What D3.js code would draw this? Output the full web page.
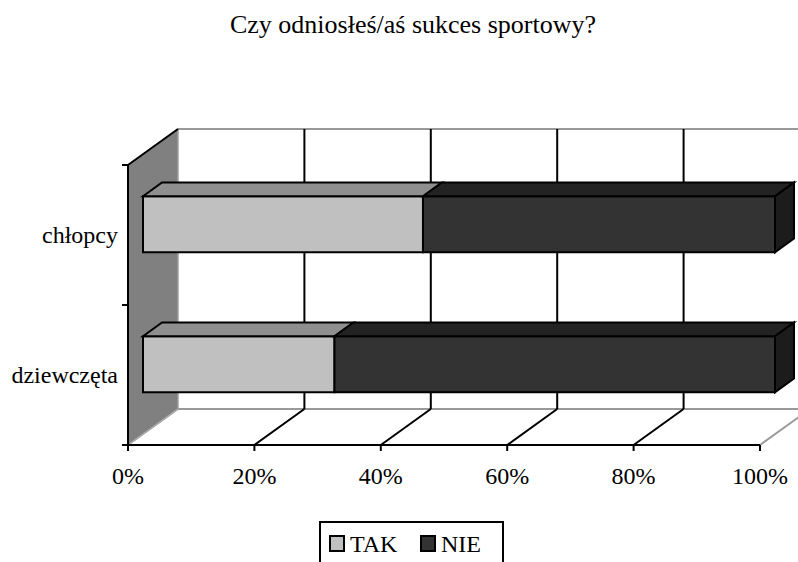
<!DOCTYPE html>
<html lang="pl">
<head>
    <meta charset="UTF-8">
    <title>Czy odniosłeś/aś sukces sportowy?</title>
    <script src="https://d3js.org/d3.v7.min.js"></script>
    <style>
        body { margin: 0; padding: 0; background-color: white; }
        svg { display: block; }
        svg text { font-family: 'Liberation Serif', 'Times New Roman', Times, 'DejaVu Serif', serif; }
    </style>
</head>
<body>
    <div id="chart"></div>
    <script>
        // data
        const categories = ["chłopcy", "dziewczęta"];
        const seriesNames = ["TAK", "NIE"];
        const takValues = [44.3, 30.3];
        const nieValues = [55.7, 69.7];
        const tickValues = [0, 20, 40, 60, 80, 100];

        const width = 798, height = 562;
        const colors = { TAK: "#c0c0c0", NIE: "#333333" };
        const topColors = { TAK: "#8f8f8f", NIE: "#232323" };
        const sideColor = "#1c1c1c";
        const serif = "'Liberation Serif', 'Times New Roman', Times, 'DejaVu Serif', serif";

        // depth projection of the 3D box
        const depthX = 50, depthY = -36;
        const proj = (x, y, z) => [x + z * depthX, y + z * depthY];
        const barZ0 = 0.3, barZ1 = 0.68;

        const x = d3.scaleLinear().domain([0, 100]).range([128, 760]);
        const y = d3.scaleBand().domain(categories).range([165, 445])
            .paddingInner(0.6).paddingOuter(0.3);
        const yTop = 165, yBottom = 445;

        const svg = d3.select("#chart").append("svg")
            .attr("width", width).attr("height", height)
            .attr("font-family", serif);

        const poly = pts => "M" + pts.map(p => p.join(",")).join("L") + "Z";

        // left wall
        svg.append("path")
            .attr("d", poly([proj(x(0), yTop, 0), proj(x(0), yTop, 1), proj(x(0), yBottom, 1), proj(x(0), yBottom, 0)]))
            .attr("fill", "#808080").attr("stroke", "#a0a0a0").attr("stroke-width", 1.5);

        // back wall top edge & floor back edge (grey)
        const backTop = proj(x(0), yTop, 1), backTopR = proj(x(100), yTop, 1);
        svg.append("line").attr("x1", backTop[0]).attr("y1", backTop[1])
            .attr("x2", backTopR[0] + 20).attr("y2", backTopR[1])
            .attr("stroke", "#999").attr("stroke-width", 2);
        const floorBack = proj(x(0), yBottom, 1), floorBackR = proj(x(100), yBottom, 1);
        svg.append("line").attr("x1", floorBack[0]).attr("y1", floorBack[1])
            .attr("x2", floorBackR[0] + 20).attr("y2", floorBackR[1])
            .attr("stroke", "#999").attr("stroke-width", 2);
        const floorRight = proj(x(100), yBottom, 1);
        svg.append("line").attr("x1", x(100)).attr("y1", yBottom)
            .attr("x2", floorRight[0]).attr("y2", floorRight[1])
            .attr("stroke", "#999").attr("stroke-width", 2);
        svg.append("line").attr("x1", x(0)).attr("y1", yBottom)
            .attr("x2", floorBack[0]).attr("y2", floorBack[1])
            .attr("stroke", "#aaa").attr("stroke-width", 1.5);

        // gridlines on back wall and floor
        const inner = tickValues.filter(t => t > 0 && t < 100);
        const grid = svg.append("g").attr("stroke", "#000").attr("stroke-width", 2);
        inner.forEach(t => {
            const a = proj(x(t), yTop, 1), b = proj(x(t), yBottom, 1);
            grid.append("line").attr("x1", a[0]).attr("y1", a[1]).attr("x2", b[0]).attr("y2", b[1]);
            grid.append("line").attr("x1", x(t)).attr("y1", yBottom).attr("x2", b[0]).attr("y2", b[1]);
        });

        // left wall front edges
        const wallTopBack = proj(x(0), yTop, 1);
        svg.append("line").attr("x1", x(0)).attr("y1", yTop).attr("x2", wallTopBack[0]).attr("y2", wallTopBack[1])
            .attr("stroke", "#000").attr("stroke-width", 2);
        svg.append("line").attr("x1", x(0)).attr("y1", yTop).attr("x2", x(0)).attr("y2", yBottom)
            .attr("stroke", "#000").attr("stroke-width", 2);

        // front floor axis with ticks
        svg.append("line").attr("x1", x(0)).attr("y1", yBottom).attr("x2", x(100)).attr("y2", yBottom)
            .attr("stroke", "#000").attr("stroke-width", 2);
        svg.append("g").selectAll("line").data(tickValues).join("line")
            .attr("x1", d => x(d)).attr("x2", d => x(d))
            .attr("y1", yBottom).attr("y2", yBottom + 6)
            .attr("stroke", "#000").attr("stroke-width", 2);
        svg.append("g").selectAll("text").data(tickValues).join("text")
            .attr("x", d => x(d)).attr("y", 484)
            .attr("text-anchor", "middle").attr("font-size", 24)
            .text(d => d + "%");

        // category axis ticks
        const catTicks = [yTop, yTop + y.step(), yBottom];
        svg.append("g").selectAll("line").data(catTicks).join("line")
            .attr("x1", x(0) - 6).attr("x2", x(0))
            .attr("y1", d => d).attr("y2", d => d)
            .attr("stroke", "#000").attr("stroke-width", 2);
        svg.append("g").selectAll("text").data(categories).join("text")
            .attr("x", 118).attr("y", d => y(d) + y.bandwidth() / 2 + 8)
            .attr("text-anchor", "end").attr("font-size", 24)
            .text(d => d);

        // stacked 3D bars
        const rows = categories.map((c, i) => ({ cat: c, TAK: takValues[i], NIE: nieValues[i] }));
        const stack = d3.stack().keys(seriesNames)(rows);
        const bars = svg.append("g").attr("stroke", "#000").attr("stroke-width", 2).attr("stroke-linejoin", "miter");
        categories.forEach((c, i) => {
            const y0 = y(c), y1 = y(c) + y.bandwidth();
            stack.forEach((s, k) => {
                const v0 = s[i][0], v1 = s[i][1];
                const xa = x(v0) + barZ0 * depthX, xb = x(v1) + barZ0 * depthX;
                const dz = barZ1 - barZ0;
                const fy0 = y0 + barZ0 * depthY, fy1 = y1 + barZ0 * depthY;
                // front
                bars.append("path").attr("fill", colors[s.key])
                    .attr("d", poly([[xa, fy0], [xb, fy0], [xb, fy1], [xa, fy1]]));
                // top
                bars.append("path").attr("fill", topColors[s.key])
                    .attr("d", poly([[xa, fy0], [xa + dz * depthX, fy0 + dz * depthY],
                        [xb + dz * depthX, fy0 + dz * depthY], [xb, fy0]]));
                // right side of last segment
                if (k === stack.length - 1) {
                    bars.append("path").attr("fill", sideColor)
                        .attr("d", poly([[xb, fy0], [xb + dz * depthX, fy0 + dz * depthY],
                            [xb + dz * depthX, fy1 + dz * depthY], [xb, fy1]]));
                }
            });
        });

        // title
        svg.append("text").attr("x", 413).attr("y", 33)
            .attr("text-anchor", "middle").attr("font-size", 26)
            .text("Czy odniosłeś/aś sukces sportowy?");

        // legend
        const legend = svg.append("g");
        legend.append("rect").attr("x", 320).attr("y", 522).attr("width", 183).attr("height", 60)
            .attr("fill", "white").attr("stroke", "#000").attr("stroke-width", 2);
        const legendX = [330, 421];
        seriesNames.forEach((name, i) => {
            legend.append("rect").attr("x", legendX[i]).attr("y", 536).attr("width", 14).attr("height", 15)
                .attr("fill", colors[name]).attr("stroke", "#000").attr("stroke-width", 2);
            legend.append("text").attr("x", legendX[i] + 20).attr("y", 552)
                .attr("font-size", 24).text(name);
        });
    </script>
</body>
</html>
